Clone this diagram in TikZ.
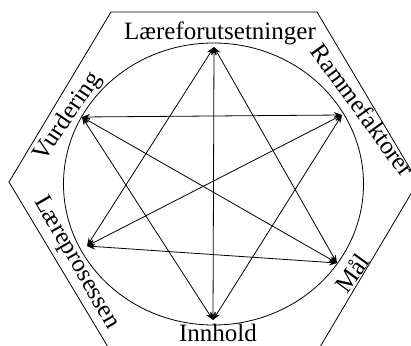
\documentclass[tikz,border=0pt]{standalone}
\usepackage{fontspec}
\setmainfont{Liberation Serif}
\usetikzlibrary{arrows.meta}

\begin{document}
\begin{tikzpicture}[x=1pt, y=-1pt, every node/.style={font=\fontsize{25}{29}\selectfont, inner sep=0pt}, link/.style={{Stealth[length=8pt,width=6pt]}-{Stealth[length=8pt,width=6pt]}, line width=0.8pt}]
        \useasboundingbox (0,0) rectangle (411,345);

        \draw[line width=0.8pt] (111,12) -- (317,12) -- (418,182) -- (317,352) -- (111,352) -- (9,182) -- cycle;
        \draw[line width=0.8pt] (213.5,184) ellipse [x radius=150, y radius=141];

        \coordinate (lf) at (214,47);
        \coordinate (vu) at (82,117);
        \coordinate (ra) at (342,115);
        \coordinate (lp) at (87,246);
        \coordinate (ma) at (337,263);
        \coordinate (inn) at (213,320);

        \node[anchor=base] (lflabel) at (220,39) {Læreforutsetninger};
        \node[rotate=-54] (ralabel) at (363,110) {Rammefaktorer};
        \node[rotate=56] (vulabel) at (68,117) {Vurdering};
        \node[rotate=-60] (lplabel) at (76,263) {Læreprosessen};
        \node[rotate=54] (malabel) at (352,273) {Mål};
        \node[anchor=base] (innlabel) at (218,341) {Innhold};

        \draw[link] (lf) -- (inn);
        \draw[link] (lf) -- (lp);
        \draw[link] (lf) -- (ma);
        \draw[link] (vu) -- (ra);
        \draw[link] (vu) -- (ma);
        \draw[link] (vu) -- (inn);
        \draw[link] (ra) -- (lp);
        \draw[link] (ra) -- (inn);
        \draw[link] (lp) -- (ma);
    \end{tikzpicture}
\end{document}
